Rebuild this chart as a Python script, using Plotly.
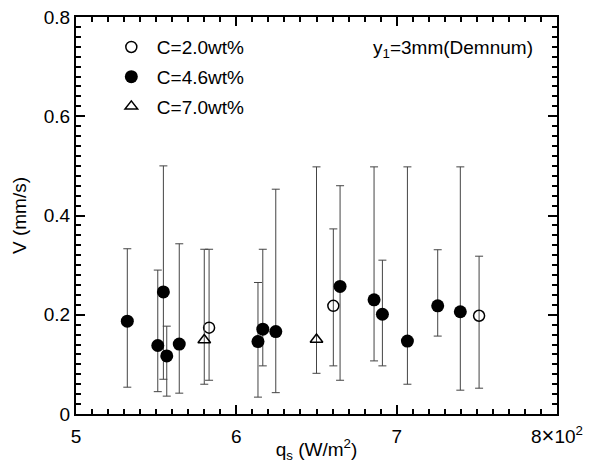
import plotly.graph_objects as go

# ---- data ----
# C = 2.0 wt%
x_c20 = [5.83, 6.605, 7.514]
y_c20 = [0.174, 0.218, 0.198]
hi_c20 = [0.332, 0.373, 0.318]
lo_c20 = [0.068, 0.097, 0.052]

# C = 4.6 wt%
x_c46 = [5.32, 5.51, 5.545, 5.566, 5.644, 6.135, 6.165, 6.246, 6.647, 6.859, 6.911, 7.067, 7.256, 7.397]
y_c46 = [0.187, 0.138, 0.246, 0.117, 0.141, 0.146, 0.171, 0.166, 0.257, 0.230, 0.201, 0.147, 0.218, 0.206]
hi_c46 = [0.333, 0.290, 0.500, 0.177, 0.343, 0.265, 0.332, 0.453, 0.460, 0.498, 0.310, 0.498, 0.331, 0.498]
lo_c46 = [0.054, 0.045, 0.070, 0.036, 0.042, 0.034, 0.097, 0.043, 0.068, 0.107, 0.097, 0.060, 0.157, 0.048]

# C = 7.0 wt%
x_c70 = [5.80, 6.50]
y_c70 = [0.149, 0.150]
hi_c70 = [0.332, 0.498]
lo_c70 = [0.060, 0.082]

x_tickvals = [5, 6, 7, 8]
x_ticktext = ["5", "6", "7", "8<span style=\"font-size:22px\">\u00d7</span>10<sup>2</sup>"]
y_tickvals = [0, 0.2, 0.4, 0.6, 0.8]
y_ticktext = ["0", "0.2", "0.4", "0.6", "0.8"]

FONT = "Liberation Sans"
FS = 19
ERRC = "#444444"


def err(y, hi, lo):
    return dict(type="data", symmetric=False,
                array=[h - v for h, v in zip(hi, y)],
                arrayminus=[v - l for v, l in zip(y, lo)],
                color=ERRC, thickness=1, width=4)


fig = go.Figure()
fig.add_trace(go.Scatter(
    x=x_c20, y=y_c20, mode="markers", name="C=2.0wt%", legendgroup="a",
    marker=dict(symbol="circle-open", size=11, color="black", line=dict(width=1.5, color="black")),
    error_y=err(y_c20, hi_c20, lo_c20)))
fig.add_trace(go.Scatter(
    x=x_c46, y=y_c46, mode="markers", name="C=4.6wt%", legendgroup="b",
    marker=dict(symbol="circle", size=13, color="black"),
    error_y=err(y_c46, hi_c46, lo_c46)))
fig.add_trace(go.Scatter(
    x=x_c70, y=y_c70, mode="markers", name="C=7.0wt%", legendgroup="c",
    marker=dict(symbol="triangle-up-open", size=11, color="black", line=dict(width=1.5, color="black")),
    error_y=err(y_c70, hi_c70, lo_c70)))

axis_common = dict(showgrid=False, zeroline=False, showline=True, linecolor="black",
                   linewidth=2, mirror="ticks", ticks="inside", tickcolor="black",
                   tickwidth=1.5, ticklen=9, automargin=False,
                   tickfont=dict(family=FONT, size=FS, color="black"))

fig.update_layout(
    width=595, height=463,
    margin=dict(l=76, r=38, t=17, b=49),
    paper_bgcolor="white", plot_bgcolor="white",
    font=dict(family=FONT, size=FS, color="black"),
    showlegend=True,
    legend=dict(x=0.062, y=0.972, xanchor="left", yanchor="top", itemwidth=41,
                bgcolor="rgba(0,0,0,0)", traceorder="grouped", tracegroupgap=2,
                font=dict(family=FONT, size=FS, color="black")),
    xaxis=dict(range=[5, 8], tickvals=x_tickvals, ticktext=x_ticktext,
               minor=dict(dtick=0.1, ticks="inside", ticklen=5, tickwidth=1.5, tickcolor="black"),
               ticklabelstandoff=4,
               title=dict(text="q<sub>s</sub> (W/m<sup>2</sup>)", standoff=0,
                          font=dict(family=FONT, size=FS, color="black")),
               **axis_common),
    yaxis=dict(range=[0, 0.8], tickvals=y_tickvals, ticktext=y_ticktext,
               minor=dict(dtick=0.02, ticks="inside", ticklen=5, tickwidth=1.5, tickcolor="black"),
               title=dict(text="V (mm/s)", standoff=12,
                          font=dict(family=FONT, size=FS, color="black")),
               **axis_common),
    annotations=[dict(text="y<sub>1</sub>=3mm(Demnum)", xref="paper", yref="paper",
                      x=0.955, y=0.955, xanchor="right", yanchor="top", showarrow=False,
                      font=dict(family=FONT, size=FS, color="black"))],
)

fig.write_html("out.html")
